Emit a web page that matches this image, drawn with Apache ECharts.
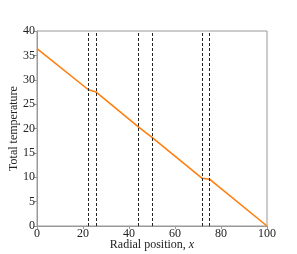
<!DOCTYPE html>
<html><head><meta charset="utf-8">
<script src="https://cdn.jsdelivr.net/npm/echarts@6/dist/echarts.min.js"></script>
<style>html,body{margin:0;padding:0;background:#fff}#c{width:297px;height:254px}</style>
</head><body><div id="c"></div>
<script>
var positions = [0, 22.2, 25.6, 44.2, 50, 71.7, 75, 100];
var temperature = [36.4, 28.0, 27.5, 20.3, 18.2, 9.8, 9.6, 0];
var boundaries = [22.2, 25.6, 44.2, 50, 71.7, 75];
var xTicks = [0, 20, 40, 60, 80, 100];
var yTicks = [0, 5, 10, 15, 20, 25, 30, 35, 40];

var F = 'Liberation Serif';
var axisGray = '#999';
var chart = echarts.init(document.getElementById('c'), null, {renderer:'canvas'});
chart.setOption({
  animation: false,
  grid: {left: 37, right: 30, top: 31, bottom: 28, containLabel: false, outerBoundsMode: 'none', show: true, borderColor: axisGray, borderWidth: 1},
  xAxis: {
    type: 'value', min: xTicks[0], max: xTicks[xTicks.length-1], interval: 20,
    name: '{n|Radial position, }{i|x}', nameLocation: 'middle', nameGap: 13, nameMoveOverlap: false,
    nameTextStyle: {rich: {n: {fontFamily: F, fontSize: 12, color: '#222'}, i: {fontFamily: F, fontStyle: 'italic', fontSize: 12, color: '#222'}}},
    axisLine: {show: true, lineStyle: {color: axisGray}},
    axisTick: {show: true, inside: false, length: 3, lineStyle: {color: axisGray}},
    axisLabel: {fontFamily: F, fontSize: 12, color: '#222', margin: 2},
    splitLine: {show: false}
  },
  yAxis: {
    type: 'value', min: yTicks[0], max: yTicks[yTicks.length-1], interval: 5,
    name: 'Total temperature', nameLocation: 'middle', nameGap: 17, nameMoveOverlap: false,
    nameTextStyle: {fontFamily: F, fontSize: 12, color: '#222'},
    axisLine: {show: true, lineStyle: {color: axisGray}},
    axisTick: {show: true, inside: false, length: 3, lineStyle: {color: axisGray}},
    axisLabel: {fontFamily: F, fontSize: 12, color: '#222', margin: 2},
    splitLine: {show: false}
  },
  series: [{
    type: 'line',
    data: positions.map(function(x, i){ return [x, temperature[i]]; }),
    symbol: 'none',
    lineStyle: {color: '#ff7f0e', width: 1.6},
    z: 3,
    markLine: {
      silent: true, symbol: 'none', animation: false,
      label: {show: false},
      lineStyle: {color: '#222', type: [3, 2], width: 1},
      data: boundaries.map(function(b){ return {xAxis: b}; })
    }
  }]
});
</script></body></html>
